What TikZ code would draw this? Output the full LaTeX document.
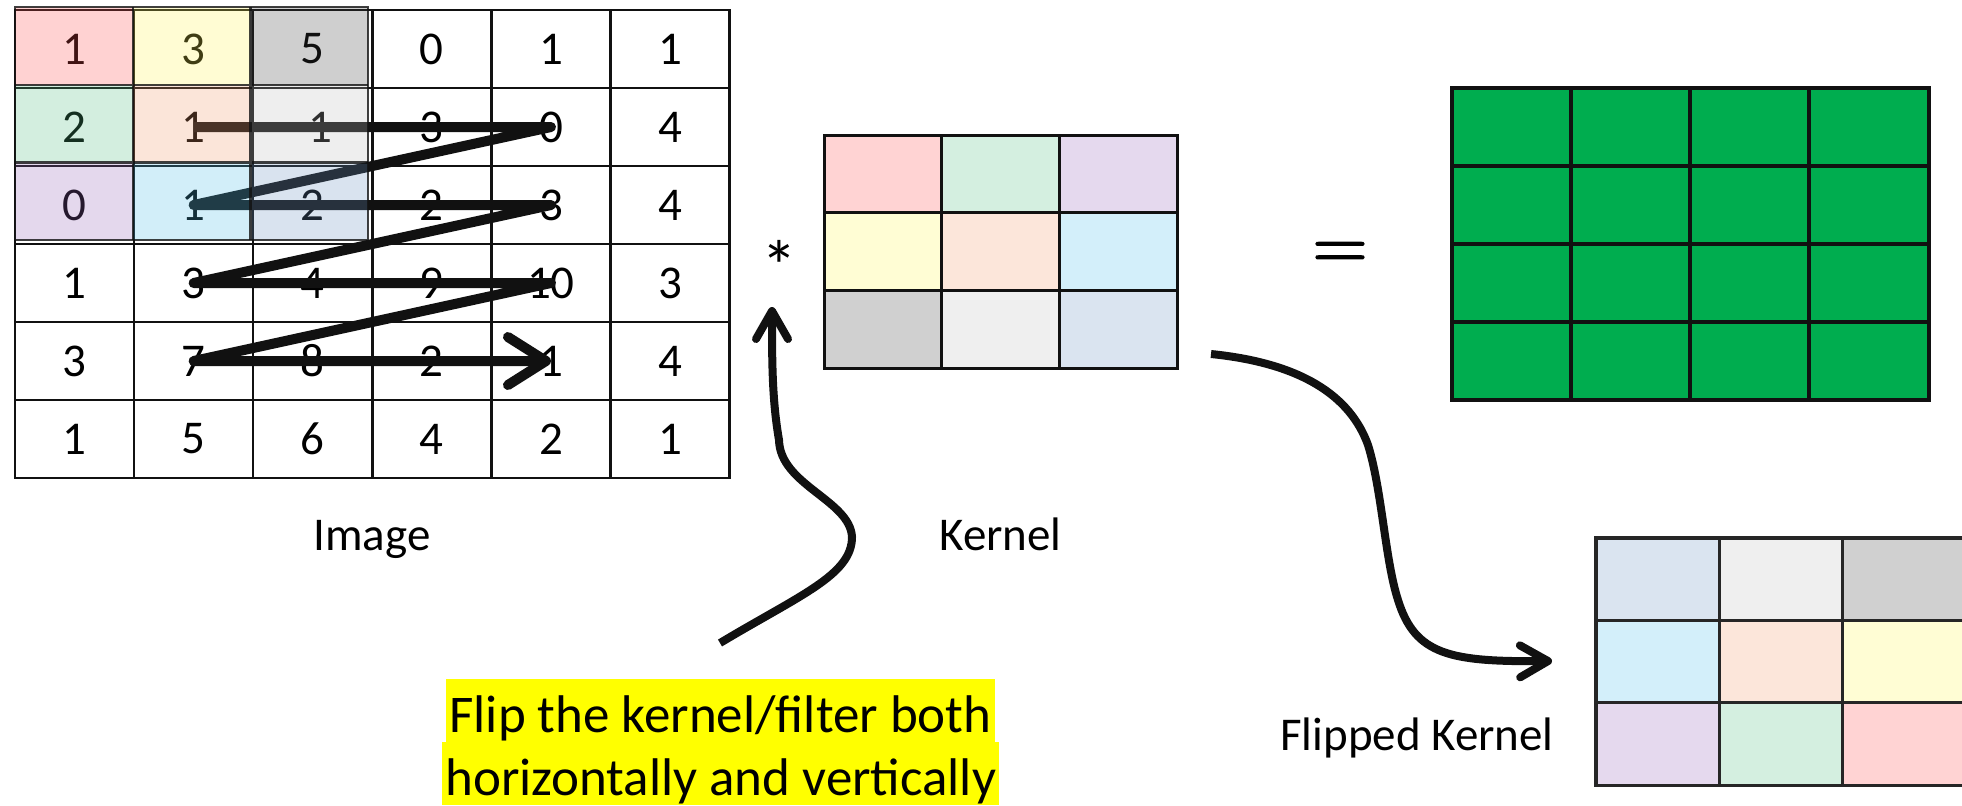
\documentclass[tikz,border=0pt]{standalone}
\usepackage{fontspec}
\setmainfont{Carlito}
\newfontfamily\eqfont[FakeBold=2]{Latin Modern Roman}
\usetikzlibrary{arrows.meta}
% kernel pastel colours
\definecolor{kpink}{HTML}{FFD3D3}
\definecolor{kmint}{HTML}{D4EFE0}
\definecolor{klav}{HTML}{E5D9EE}
\definecolor{kyellow}{HTML}{FFFDD4}
\definecolor{kpeach}{HTML}{FCE6DA}
\definecolor{kcyan}{HTML}{D3EFFA}
\definecolor{kgray}{HTML}{D0D0D0}
\definecolor{klgray}{HTML}{EFEFEF}
\definecolor{kblue}{HTML}{DAE4F0}
% overlay colours (used at 25% opacity)
\definecolor{opink}{RGB}{255,79,79}
\definecolor{oyellow}{RGB}{255,247,83}
\definecolor{ogray}{RGB}{67,67,67}
\definecolor{omint}{RGB}{83,191,131}
\definecolor{opeach}{RGB}{243,155,107}
\definecolor{olgray}{RGB}{191,191,191}
\definecolor{olav}{RGB}{151,103,187}
\definecolor{ocyan}{RGB}{79,191,235}
\definecolor{oblue}{RGB}{107,147,195}
\definecolor{outgreen}{HTML}{00AD4F}
\definecolor{hlyellow}{HTML}{FFFF00}
\definecolor{ink}{HTML}{111111}
\begin{document}
\begin{tikzpicture}[x=0.5pt,y=-0.5pt,
  icell/.style={draw=ink, line width=1.2pt, minimum width=59.55pt, minimum height=39pt,
    inner sep=0pt, font=\fontsize{23.5}{28}\selectfont},
  kcell/.style={draw=ink, line width=1.5pt, minimum width=58.85pt, minimum height=38.85pt, inner sep=0pt},
  gcell/.style={draw=ink, fill=outgreen, line width=2pt, minimum width=59.6pt, minimum height=39pt, inner sep=0pt},
  fcell/.style={draw=black!85, line width=1.6pt, minimum width=61.65pt, minimum height=41.2pt, inner sep=0pt},
  lbl/.style={font=\fontsize{23.5}{28}\selectfont, inner sep=0pt},
  hl/.style={fill=hlyellow, font=\fontsize{26.5}{32}\selectfont, text height=26.5pt, text depth=5pt,
    inner ysep=0pt, inner xsep=1.5pt, anchor=base west},
  zig/.style={draw=ink, line width=5pt, line join=round,
    -{Straight Barb[length=19pt, width=24pt, round]}},
  curvy/.style={draw=ink, line width=4pt, -{Straight Barb[length=14pt, width=16pt, round]}}
]
\useasboundingbox (0,0) rectangle (1962,805);
\fill[white] (0,0) rectangle (1962,805);

% ---------------- Image grid ----------------
\foreach \row [count=\r] in {{1,3,5,0,1,1},{2,1,-1,3,0,4},{0,1,2,2,3,4},{1,3,4,9,10,3},{3,7,8,2,1,4},{1,5,6,4,2,1}} {
  \foreach \v [count=\c] in \row {
    \node[icell] (i-\r-\c) at ({15+119.1*(\c-0.5)},{10+78*(\r-0.5)}) {\v};
  }
}
% zig-zag scan path
\draw[zig] (i-2-2.center) -- (i-2-5.center) -- (i-3-2.center) -- (i-3-5.center)
  -- (i-4-2.center) -- (i-4-5.center) -- (i-5-2.center) -- (i-5-5.center);
% translucent kernel overlay on the image
\foreach \row [count=\r] in {{opink,oyellow,ogray},{omint,opeach,olgray},{olav,ocyan,oblue}} {
  \foreach \cl [count=\c] in \row {
    \fill[\cl, fill opacity=0.25] ({15+117.7*(\c-1)},{7+77.7*(\r-1)}) rectangle ++(117.7,77.7);
  }
}
\draw[ink, opacity=0.8, line width=1.3pt] (15,7) rectangle (368,240);
\draw[ink, opacity=0.8, line width=1.1pt] (132.7,7) -- (132.7,240) (250.4,7) -- (250.4,240)
  (15,84.7) -- (368,84.7) (15,162.4) -- (368,162.4);
\node[lbl, anchor=base] (imglbl) at (372,550) {Image};

% ---------------- operator ----------------
\node[font=\fontsize{36}{42}\selectfont, inner sep=0pt] (star) at (779,266) {*};

% ---------------- Kernel ----------------
\foreach \row [count=\r] in {{kpink,kmint,klav},{kyellow,kpeach,kcyan},{kgray,klgray,kblue}} {
  \foreach \cl [count=\c] in \row {
    \node[kcell, fill=\cl] (k-\r-\c) at ({824+117.7*(\c-0.5)},{135+77.7*(\r-0.5)}) {};
  }
}
\node[lbl, anchor=base] (kerlbl) at (1000.5,550) {Kernel};

% ---------------- equals and output ----------------
\node[font=\eqfont\fontsize{38}{46}\selectfont, inner sep=0pt] (eq) at (1340,256) {=};
\foreach \r in {1,...,4} {
  \foreach \c in {1,...,4} {
    \node[gcell] (o-\r-\c) at ({1451.5+119.25*(\c-0.5)},{88+78.1*(\r-0.5)}) {};
  }
}

% ---------------- Flipped kernel ----------------
\begin{scope}
  \clip (0,0) rectangle (1962,805);
  \foreach \row [count=\r] in {{kblue,klgray,kgray},{kcyan,kpeach,kyellow},{klav,kmint,kpink}} {
    \foreach \cl [count=\c] in \row {
      \node[fcell, fill=\cl] (f-\r-\c) at ({1596+123.3*(\c-0.5)},{538+82.4*(\r-0.5)}) {};
    }
  }
\end{scope}
\node[lbl, anchor=base] (fklbl) at (1417,750) {Flipped Kernel};

% ---------------- highlighted note ----------------
\node[hl] (note1) at (446,732) {Flip the kernel/filter both\hspace{4.5pt}};
\node[hl] (note2) at (442,795) {horizontally and vertically};

% ---------------- curved arrows ----------------
\coordinate (fa-s) at (720,643);
\coordinate (fa-e) at (772,307);
\draw[curvy] (fa-s) .. controls (800,595) and (852,575) .. (852,537)
  .. controls (850,500) and (780,485) .. (779,440)
  .. controls (772,400) and (772,360) .. (fa-e);

\coordinate (ka-s) at (1211,354);
\coordinate (ka-e) at (1552,661);
\draw[curvy] (ka-s) .. controls (1300,363) and (1350,395) .. (1368,445)
  .. controls (1382,490) and (1385,560) .. (1398,600)
  .. controls (1415,655) and (1450,662) .. (ka-e);
\end{tikzpicture}
\end{document}
